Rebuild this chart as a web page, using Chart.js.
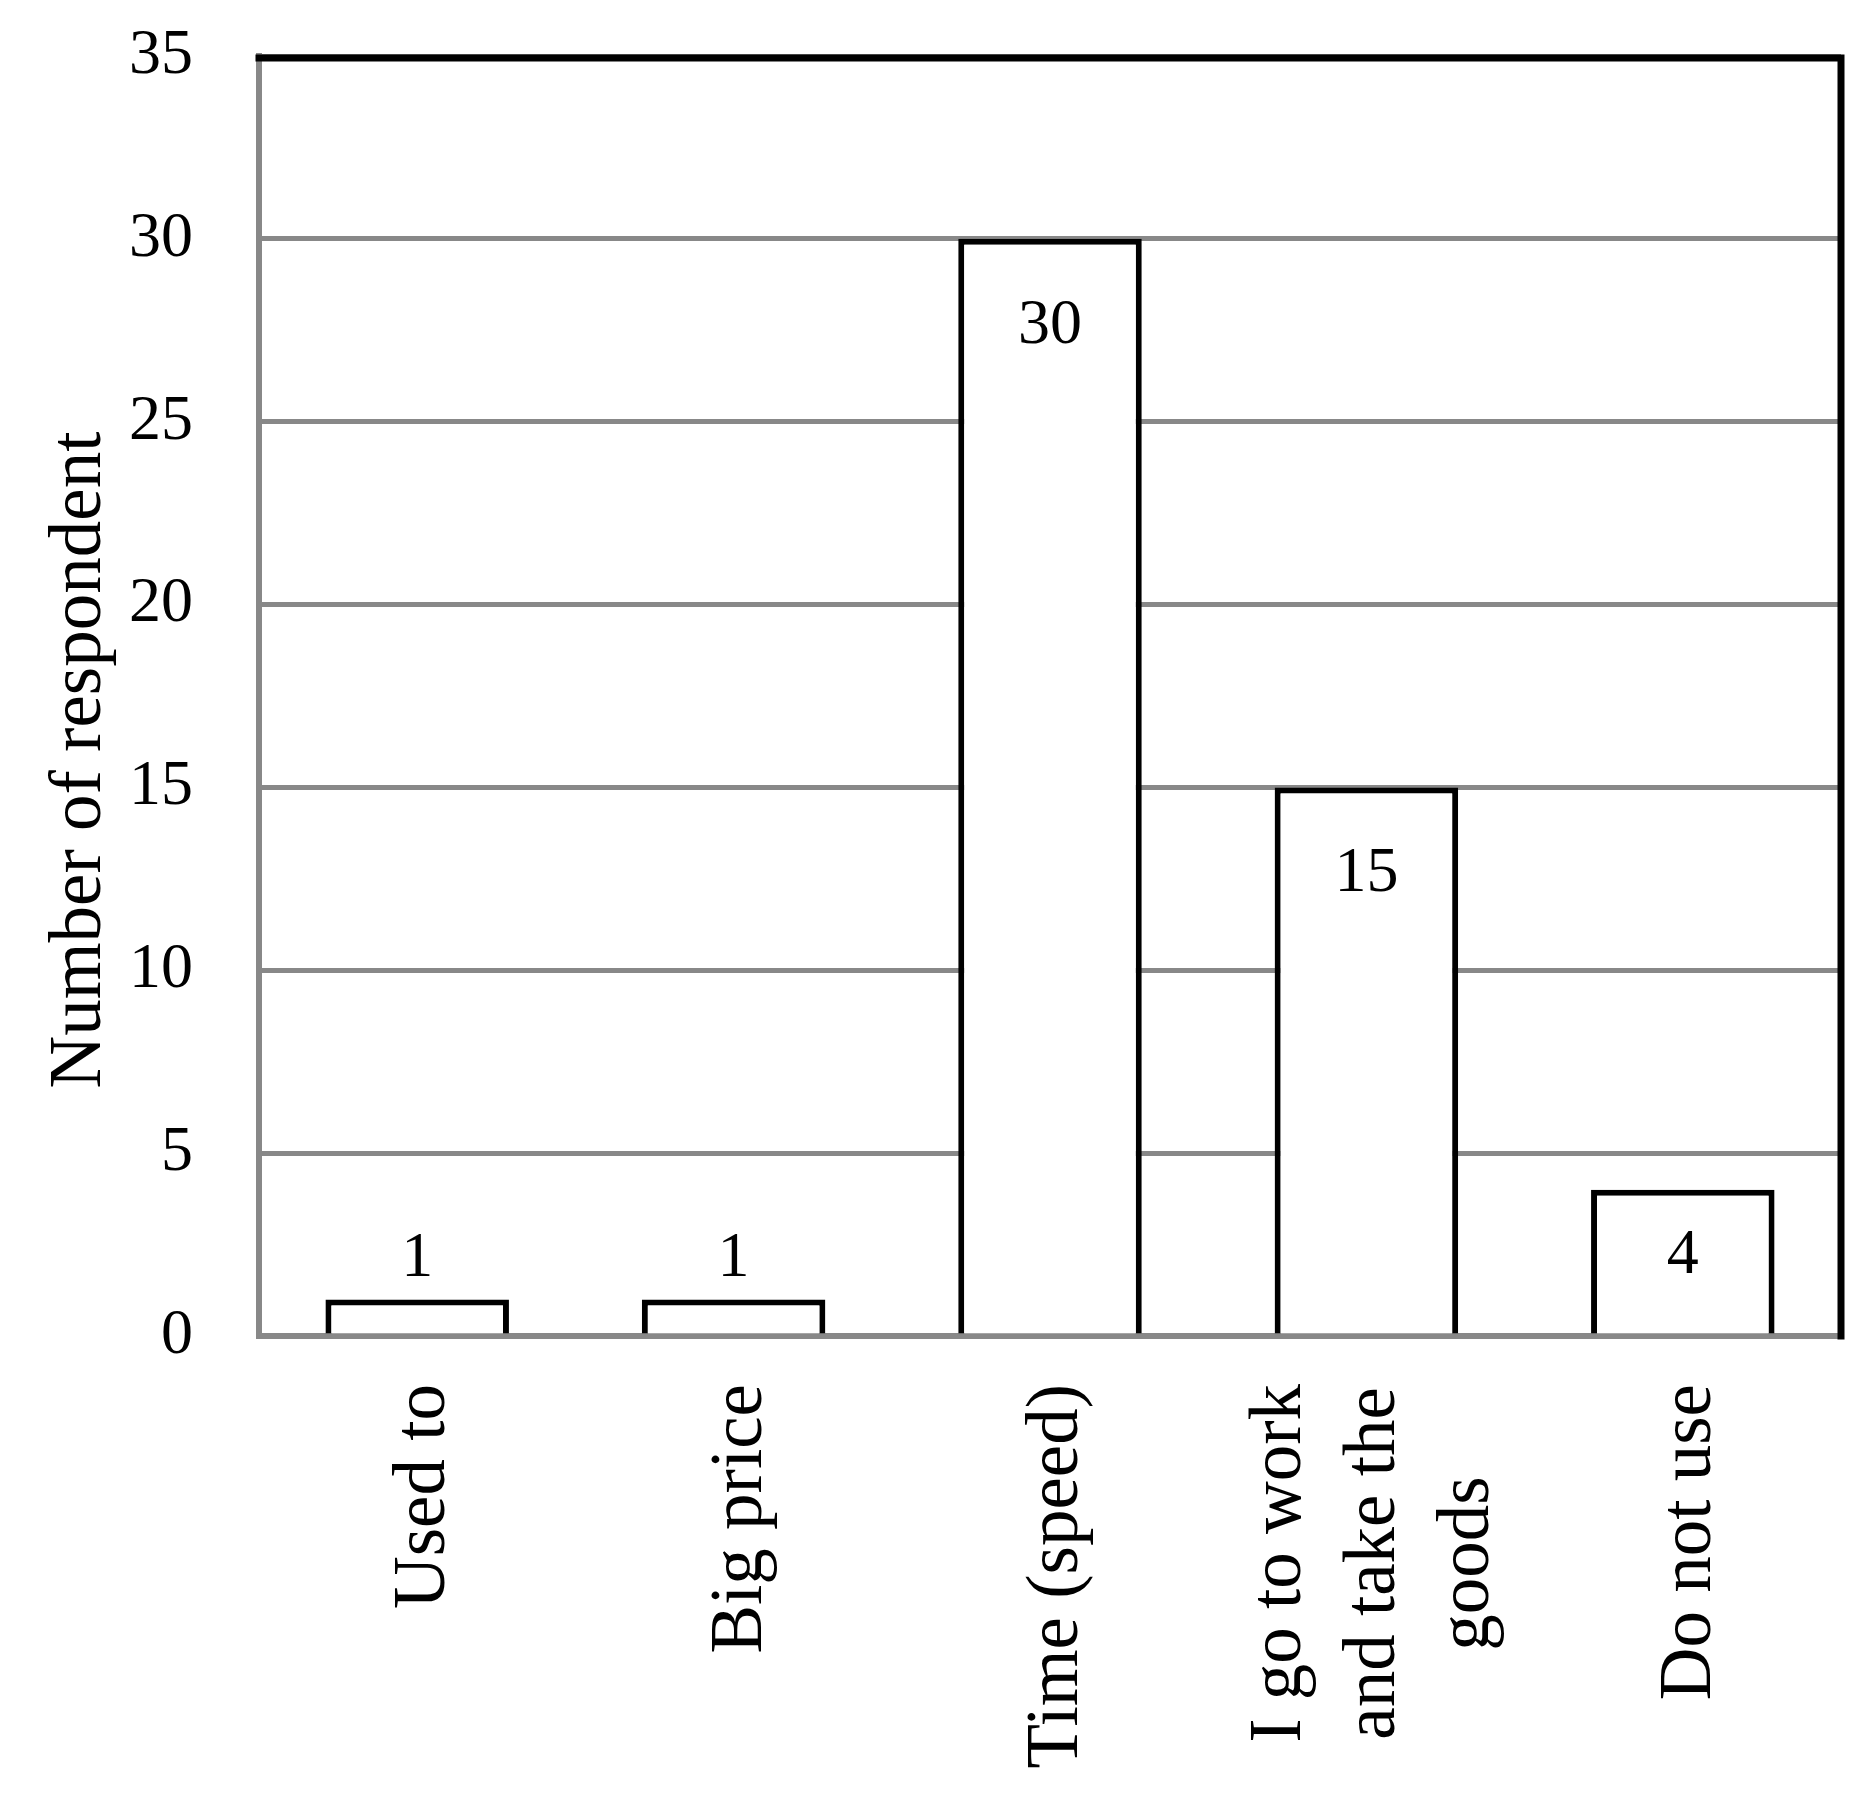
<!DOCTYPE html>
<html>
<head>
<meta charset="utf-8">
<script src="https://cdn.jsdelivr.net/npm/chart.js@4.4.0/dist/chart.umd.min.js"></script>
<style>
    html, body { margin: 0; padding: 0; background: #fff; }
    #wrap { width: 1871px; height: 1796px; }
</style>
</head>
<body>
<div id="wrap"><canvas id="myChart"></canvas></div>
<script>
// data
const categories = [
    ['Used to'],
    ['Big price'],
    ['Time (speed)'],
    ['I go to work', 'and take the', 'goods'],
    ['Do not use']
];
const respondents = [1, 1, 30, 15, 4];
const yTicks = [0, 5, 10, 15, 20, 25, 30, 35];
const yTitle = 'Number of respondent';

const FONT = '"Liberation Serif", "Times New Roman", serif';

// value labels, rotated category labels, axis title and the black frame
const extras = {
    id: 'extras',
    afterDatasetsDraw(chart) {
        const ctx = chart.ctx;
        const meta = chart.getDatasetMeta(0);
        ctx.save();
        ctx.fillStyle = '#000';
        ctx.font = '64px ' + FONT;
        ctx.textAlign = 'center';
        ctx.textBaseline = 'middle';
        meta.data.forEach((bar, i) => {
            const h = bar.base - bar.y;
            const y = h > 100 ? Math.min(bar.y + 87, bar.base - 77) : bar.y - 40;
            ctx.fillText(String(respondents[i]), bar.x, y);
        });
        ctx.restore();
    },
    afterDraw(chart) {
        const ctx = chart.ctx;
        const area = chart.chartArea;
        const xs = chart.scales.x;

        // top and right frame
        ctx.save();
        ctx.strokeStyle = '#000';
        ctx.lineWidth = 7;
        ctx.lineCap = 'square';
        ctx.beginPath();
        ctx.moveTo(area.left, area.top + 2);
        ctx.lineTo(area.right, area.top + 2);
        ctx.lineTo(area.right, area.bottom);
        ctx.stroke();
        ctx.restore();

        // category labels
        ctx.save();
        ctx.fillStyle = '#000';
        ctx.font = '73px ' + FONT;
        ctx.textAlign = 'center';
        ctx.textBaseline = 'middle';
        categories.forEach((lines, i) => {
            const x = xs.getPixelForTick(i);
            const w = Math.max(...lines.map(l => ctx.measureText(l).width));
            ctx.save();
            ctx.translate(x + 8, area.bottom + 48 + w / 2);
            ctx.rotate(-Math.PI / 2);
            lines.forEach((l, j) => {
                ctx.fillText(l, 0, (j - (lines.length - 1) / 2) * 94);
            });
            ctx.restore();
        });

        // y axis title
        ctx.translate(81, (area.top + area.bottom) / 2 + 64);
        ctx.rotate(-Math.PI / 2);
        ctx.fillText(yTitle, 0, 0);
        ctx.restore();
    }
};

const ctx = document.getElementById('myChart');
new Chart(ctx.getContext('2d'), {
    type: 'bar',
    data: {
        labels: categories,
        datasets: [{
            data: respondents,
            backgroundColor: '#ffffff',
            borderColor: '#000000',
            borderWidth: 6,
            borderSkipped: 'start',
            barPercentage: 0.58,
            categoryPercentage: 1.0
        }]
    },
    options: {
        responsive: true,
        maintainAspectRatio: false,
        animation: false,
        layout: { padding: { top: 56, right: 30, left: 0, bottom: 0 } },
        plugins: {
            legend: { display: false },
            tooltip: { enabled: false }
        },
        scales: {
            x: {
                z: 1,
                grid: { display: false },
                border: { display: true, color: '#888888', width: 6 },
                ticks: { display: false },
                afterFit(scale) { scale.height = 460; }
            },
            y: {
                min: yTicks[0],
                max: yTicks[yTicks.length - 1],
                grid: {
                    color: '#888888',
                    lineWidth: 5,
                    drawTicks: true,
                    tickLength: 66,
                    tickColor: 'rgba(0,0,0,0)'
                },
                border: { display: true, color: '#888888', width: 6 },
                ticks: {
                    stepSize: yTicks[1] - yTicks[0],
                    color: '#000',
                    padding: 0,
                    font: { family: FONT, size: 64 }
                },
                afterFit(scale) { scale.width = 259; }
            }
        }
    },
    plugins: [extras]
});
</script>
</body>
</html>
